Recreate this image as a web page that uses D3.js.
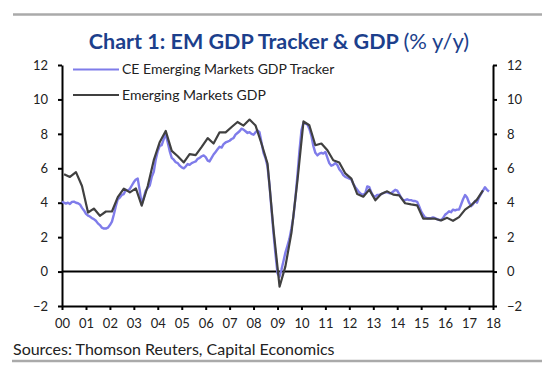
<!DOCTYPE html>
<html>
<head>
<meta charset="utf-8">
<script src="https://cdn.jsdelivr.net/npm/d3@7"></script>
<style>
  html, body { margin: 0; padding: 0; background: #fff; }
  svg { display: block; font-family: Lato, "Open Sans", sans-serif; }
</style>
</head>
<body>
<svg id="chart" width="558" height="374"></svg>
<script>
// CE tracker, monthly from Jan 2000
const TRACKER_START = [2000, 0];
const trackerValues = [
  4.06, 4.00, 3.95, 4.00, 3.93, 4.05, 4.06, 4.00, 3.97, 3.90, 3.70, 3.55, // 2000
  3.35, 3.25, 3.20, 3.10, 3.05, 2.95, 2.80, 2.70, 2.55, 2.50, 2.50, 2.55, // 2001
  2.70, 2.90, 3.30, 3.80, 4.20, 4.30, 4.45, 4.50, 4.75, 4.70, 4.80, 5.00, // 2002
  5.20, 5.35, 5.40, 4.70, 3.90, 4.30, 4.70, 4.85, 5.00, 5.50, 5.80, 6.50, // 2003
  7.00, 7.30, 7.35, 7.70, 8.00, 7.50, 7.00, 6.60, 6.50, 6.35, 6.30, 6.15, // 2004
  6.05, 6.00, 6.10, 6.25, 6.20, 6.30, 6.35, 6.40, 6.55, 6.60, 6.70, 6.75, // 2005
  6.65, 6.45, 6.40, 6.60, 6.80, 6.95, 7.10, 7.25, 7.20, 7.40, 7.50, 7.55, // 2006
  7.60, 7.70, 7.75, 7.95, 8.05, 8.15, 8.30, 8.25, 8.15, 8.05, 8.10, 8.00, // 2007
  7.95, 8.10, 8.20, 8.10, 7.50, 6.90, 6.60, 6.10, 5.00, 3.60, 2.20, 1.00, // 2008
  -0.10, -0.30, 0.10, 0.60, 1.10, 1.50, 1.90, 2.50, 3.20, 4.30, 5.60, 7.00, // 2009
  8.20, 8.65, 8.60, 8.55, 8.30, 7.90, 7.30, 6.90, 6.75, 6.85, 6.90, 6.85, // 2010
  6.95, 6.60, 6.30, 6.15, 6.20, 6.30, 6.20, 5.95, 5.80, 5.60, 5.50, 5.45, // 2011
  5.40, 5.35, 5.10, 4.90, 4.75, 4.60, 4.50, 4.45, 4.55, 4.95, 4.90, 4.60, // 2012
  4.40, 4.35, 4.45, 4.45, 4.50, 4.55, 4.60, 4.60, 4.55, 4.55, 4.65, 4.75, // 2013
  4.70, 4.50, 4.30, 4.15, 4.15, 4.20, 4.15, 4.15, 4.10, 4.10, 4.05, 3.80, // 2014
  3.50, 3.30, 3.15, 3.10, 3.10, 3.10, 3.15, 3.10, 3.05, 3.00, 3.00, 3.10, // 2015
  3.30, 3.40, 3.50, 3.45, 3.60, 3.55, 3.60, 3.60, 3.90, 4.20, 4.45, 4.30, // 2016
  4.00, 3.80, 3.90, 4.10, 4.00, 4.30, 4.50, 4.70, 4.90, 4.75, 4.65        // 2017
];

// EM GDP, quarterly from 2000 Q1
const GDP_START = [2000, 0];
const gdpValues = [
  5.66, 5.50, 5.78, 4.97,   // 2000
  3.43, 3.66, 3.24, 3.49,   // 2001
  3.49, 4.32, 4.82, 4.60,   // 2002
  4.83, 3.83, 4.97, 6.47,   // 2003
  7.53, 8.17, 7.01, 6.70,   // 2004
  6.34, 6.82, 6.76, 7.24,   // 2005
  7.75, 7.44, 8.09, 8.09,   // 2006
  8.40, 8.69, 8.48, 8.83,   // 2007
  8.48, 7.44, 6.28, 2.43,   // 2008
  -0.88, 0.30, 2.25, 5.30,  // 2009
  8.72, 8.50, 7.34, 7.44,   // 2010
  7.05, 6.47, 6.34, 5.70,   // 2011
  5.40, 4.50, 4.35, 4.76,   // 2012
  4.14, 4.50, 4.66, 4.47,   // 2013
  4.43, 3.97, 3.90, 3.85,   // 2014
  3.08, 3.08, 3.07, 2.97,   // 2015
  3.12, 2.95, 3.16, 3.60,   // 2016
  3.85, 4.18, 4.72          // 2017
];

const yearLabels = ['00', '01', '02', '03', '04', '05', '06', '07', '08', '09',
                    '10', '11', '12', '13', '14', '15', '16', '17', '18'];
const yTicks = [-2, 0, 2, 4, 6, 8, 10, 12];

const seriesNames = ['CE Emerging Markets GDP Tracker', 'Emerging Markets GDP'];
const seriesColors = ['#7f7cea', '#404040'];

const TITLE_BOLD = 'Chart 1: EM GDP Tracker & GDP ';
const TITLE_REST = '(% y/y)';
const SOURCE = 'Sources: Thomson Reuters, Capital Economics';

const tracker = trackerValues.map((v, i) =>
  ({ date: new Date(TRACKER_START[0], TRACKER_START[1] + i, 1), value: v }));
const gdp = gdpValues.map((v, i) =>
  ({ date: new Date(GDP_START[0], GDP_START[1] + i * 3 + 1, 1), value: v }));

const svg = d3.select('#chart');
const L = 62, R = 493, T = 65, B = 306;

const x = d3.scaleTime()
  .domain([new Date(2000, 0, 1), new Date(2018, 0, 1)])
  .range([L, R]);
const y = d3.scaleLinear().domain([-2, 12]).range([B, T]);

// Grey rules top and bottom
svg.append('line').attr('x1', 13).attr('x2', 542).attr('y1', 14.5).attr('y2', 14.5)
  .attr('stroke', '#aaa').attr('stroke-width', 2.5);
svg.append('line').attr('x1', 12).attr('x2', 542).attr('y1', 361).attr('y2', 361)
  .attr('stroke', '#aaa').attr('stroke-width', 2.5);

// Title
const title = svg.append('text')
  .attr('x', 279).attr('y', 49).attr('text-anchor', 'middle')
  .attr('fill', '#1c3f8c').attr('font-size', 21.5);
title.append('tspan').attr('font-weight', 'bold').text(TITLE_BOLD);
title.append('tspan').attr('font-size', 22).text(TITLE_REST);

// Axes
const yLeft = d3.axisLeft(y).tickValues(yTicks).tickSize(4).tickSizeOuter(0).tickPadding(10);
const yRight = d3.axisRight(y).tickValues(yTicks).tickSize(4).tickSizeOuter(0).tickPadding(10);
const xTickDates = yearLabels.map((_, i) => new Date(2000 + i, 0, 1));
const xAxis = d3.axisBottom(x).tickValues(xTickDates).tickSize(4).tickSizeOuter(0).tickPadding(9)
  .tickFormat((d, i) => yearLabels[i]);

const styleAxis = g => {
  g.attr('font-family', 'Lato, "Open Sans", sans-serif').attr('font-size', 13);
  g.selectAll('.domain').attr('stroke', '#000').attr('stroke-width', 2);
  g.selectAll('.tick line').attr('stroke', '#000').attr('stroke-width', 2);
  g.selectAll('.tick text').attr('fill', '#222');
};

svg.append('g').attr('transform', `translate(${L},0)`).call(yLeft).call(styleAxis);
svg.append('g').attr('transform', `translate(${R},0)`).call(yRight).call(styleAxis);
svg.append('g').attr('transform', `translate(0,${B})`).call(xAxis).call(styleAxis);

// Zero line
svg.append('line')
  .attr('x1', L).attr('x2', R).attr('y1', y(0)).attr('y2', y(0))
  .attr('stroke', '#000').attr('stroke-width', 2);

// Series
const line = d3.line().x(d => x(d.date)).y(d => y(d.value));

svg.append('path').datum(tracker)
  .attr('fill', 'none').attr('stroke', seriesColors[0]).attr('stroke-width', 2.4)
  .attr('stroke-linejoin', 'round').attr('d', line);
svg.append('path').datum(gdp)
  .attr('fill', 'none').attr('stroke', seriesColors[1]).attr('stroke-width', 2.2)
  .attr('stroke-linejoin', 'round').attr('d', line);

// Legend
const legend = svg.append('g');
seriesNames.forEach((name, i) => {
  const ly = 69.5 + i * 25.5;
  legend.append('line')
    .attr('x1', 73).attr('x2', 119).attr('y1', ly).attr('y2', ly)
    .attr('stroke', seriesColors[i]).attr('stroke-width', 2.2);
  legend.append('text')
    .attr('x', 122).attr('y', ly).attr('dy', '0.35em')
    .attr('font-size', 14).attr('fill', '#222').text(name);
});

// Source note
svg.append('text')
  .attr('x', 13).attr('y', 355)
  .attr('font-size', 16).attr('fill', '#222').text(SOURCE);
</script>
</body>
</html>
